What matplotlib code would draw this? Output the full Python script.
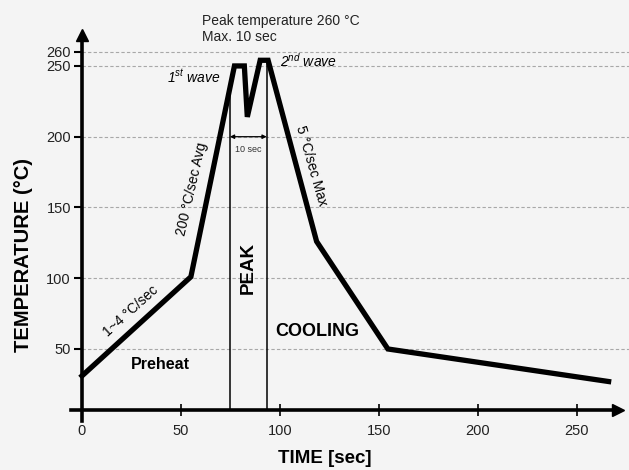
import numpy as np
import matplotlib
matplotlib.use("Agg")
import matplotlib.pyplot as plt

plt.rcParams['font.family'] = ['Liberation Sans', 'DejaVu Sans']
plt.rcParams['mathtext.fontset'] = 'custom'
plt.rcParams['mathtext.rm'] = 'Liberation Sans'
plt.rcParams['mathtext.it'] = 'Liberation Sans:italic'

# reflow profile (time in sec, temperature in C)
time = [0, 55, 77, 82, 83.5, 90, 94, 118.5, 154.5, 266]
temp = [31, 101, 250, 250, 214, 254, 254, 126, 50, 27]

peak_lines = [74.7, 93.3]
xticks = [0, 50, 100, 150, 200, 250]
yticks = [50, 100, 150, 200, 250, 260]
axis_y = 7

bg = '#f4f4f4'
fig = plt.figure(figsize=(6.29, 4.70), dpi=100, facecolor=bg)
ax = fig.add_axes([70 / 629, 48 / 470, 559 / 629, 392 / 470], facecolor=bg)
ax.set_xlim(-6.06, 276.3)
ax.set_ylim(-1.6, 275.4)

# dashed grid lines starting at the temperature axis
ax.hlines(yticks, 0, 276.3, colors='#a8a8a8', linestyles=(0, (3, 2)), lw=0.8, zorder=1)

# profile
ax.plot(time, temp, color='black', lw=3.8, solid_joinstyle='miter', zorder=3)

# peak zone boundaries
ax.vlines(peak_lines, axis_y, np.interp(peak_lines, time, temp), colors='black', lw=1.1, zorder=2)
ax.annotate('', xy=(peak_lines[0], 200), xytext=(peak_lines[1], 200),
            arrowprops=dict(arrowstyle='<|-|>', color='black', lw=0.9, mutation_scale=6,
                            shrinkA=0, shrinkB=0))
ax.text(np.mean(peak_lines), 191, '10 sec', fontsize=6.5, color='#333333', ha='center', va='center')

# axes with arrows
for s in ['top', 'right']:
    ax.spines[s].set_visible(False)
ax.spines['bottom'].set_position(('data', axis_y))
ax.spines['left'].set_position(('data', 0))
ax.spines['bottom'].set_bounds(-5.5, 268)
ax.spines['left'].set_bounds(-1.0, 268)
ax.spines['bottom'].set_linewidth(2.6)
ax.spines['left'].set_linewidth(2.6)
ax.plot(270.5, axis_y, marker='>', color='black', markersize=9, clip_on=False, zorder=4)
ax.plot(0, 272, marker='^', color='black', markersize=9, clip_on=False, zorder=4)

ax.set_xticks(xticks)
ax.set_yticks(yticks)
ax.tick_params(axis='x', direction='inout', length=9, width=1.2, labelsize=10.5,
               labelcolor='#222222', pad=6)
ax.tick_params(axis='y', direction='out', length=6, width=1.5, labelsize=10.5,
               labelcolor='#222222', pad=2)

ax.set_xlabel('TIME [sec]', fontsize=13.5, fontweight='bold')
ax.xaxis.set_label_coords(0.456, -0.072)
ax.set_ylabel('TEMPERATURE (°C)', fontsize=14.5, fontweight='bold')
ax.yaxis.set_label_coords(-0.066, 0.426)

# annotations
ax.text(60.6, 281.8, 'Peak temperature 260 °C', fontsize=10, color='#222222',
        va='center', clip_on=False)
ax.text(60.6, 270.5, 'Max. 10 sec', fontsize=10, color='#222222', va='center', clip_on=False)
ax.text(42.9, 242.2, r'1$^{st}$ wave', fontsize=10, style='italic', va='center')
ax.text(100, 253.5, r'2$^{nd}$ wave', fontsize=10, style='italic', va='center')
ax.text(55.6, 163, '200 °C/sec Avg', fontsize=10, rotation=77, ha='center', va='center')
ax.text(24.7, 76.9, '1~4 °C/sec', fontsize=10, rotation=42, ha='center', va='center')
ax.text(115.9, 179.3, '5 °C/sec Max', fontsize=10, rotation=-74, ha='center', va='center')
ax.text(39.6, 39, 'Preheat', fontsize=11.5, fontweight='bold', ha='center', va='center')
ax.text(83.8, 107.2, 'PEAK', fontsize=13.5, fontweight='bold', rotation=90,
        ha='center', va='center')
ax.text(118.9, 62, 'COOLING', fontsize=13, fontweight='bold', ha='center', va='center')

fig.savefig('out.png', dpi=100, facecolor=bg)
